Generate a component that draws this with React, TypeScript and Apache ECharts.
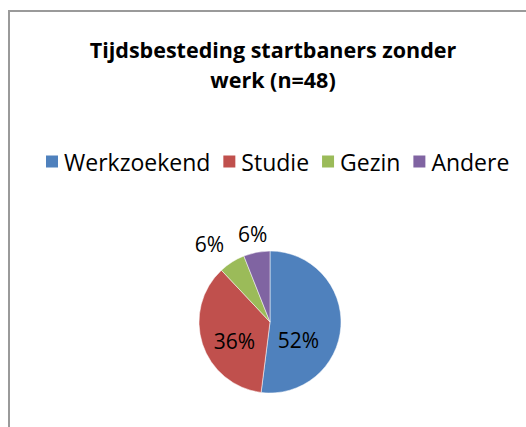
import React, { useEffect, useRef } from "react";
import * as echarts from "echarts";

const categories = ["Werkzoekend", "Studie", "Gezin", "Andere"];
const values = [52, 36, 6, 6];
const colors = ["#4F81BD", "#C0504D", "#9BBB59", "#8064A2"];
const labelOffsets: [number, number][] = [[-10, 16], [1, 7], [-40, -45], [-10, -50]];
const titleText = "Tijdsbesteding startbaners zonder\nwerk (n=48)";

export default function App() {
  const ref = useRef<HTMLDivElement>(null);
  useEffect(() => {
    if (!ref.current) return;
    const chart = echarts.init(ref.current, null, { renderer: "svg" });
    const font = "'Open Sans', 'Noto Sans', sans-serif";
    chart.setOption({
      animation: false,
      backgroundColor: "#ffffff",
      title: {
        text: titleText,
        left: 268,
        textAlign: "center",
        top: 29,
        textStyle: { fontSize: 21.5, fontWeight: "bold", color: "#000", lineHeight: 30, fontFamily: font },
      },
      legend: {
        data: categories,
        left: 39,
        top: 145,
        itemWidth: 14,
        itemHeight: 14,
        itemGap: 11,
        icon: "rect",
        textStyle: { fontSize: 23, color: "#000", fontFamily: font },
      },
      graphic: [
        {
          type: "rect",
          shape: { x: 9, y: 11, width: 540, height: 440 },
          style: { fill: "none", stroke: "#9a9a9a", lineWidth: 2 },
          silent: true,
        },
      ],
      series: [
        {
          type: "pie",
          center: [270, 322],
          radius: 71,
          startAngle: 90,
          clockwise: true,
          color: colors,
          itemStyle: { borderColor: "#ffffff", borderWidth: 0.5 },
          label: {
            show: true,
            position: "inside",
            formatter: "{c}%",
            fontSize: 21,
            color: "#000",
            fontFamily: font,
          },
          labelLine: { show: false },
          data: categories.map((name, i) => ({
            name,
            value: values[i],
            label: { offset: labelOffsets[i] },
          })),
        },
      ],
    });
    return () => chart.dispose();
  }, []);
  return (
    <div
      ref={ref}
      style={{ position: "fixed", left: 0, top: 0, width: 526, height: 427 }}
    />
  );
}
